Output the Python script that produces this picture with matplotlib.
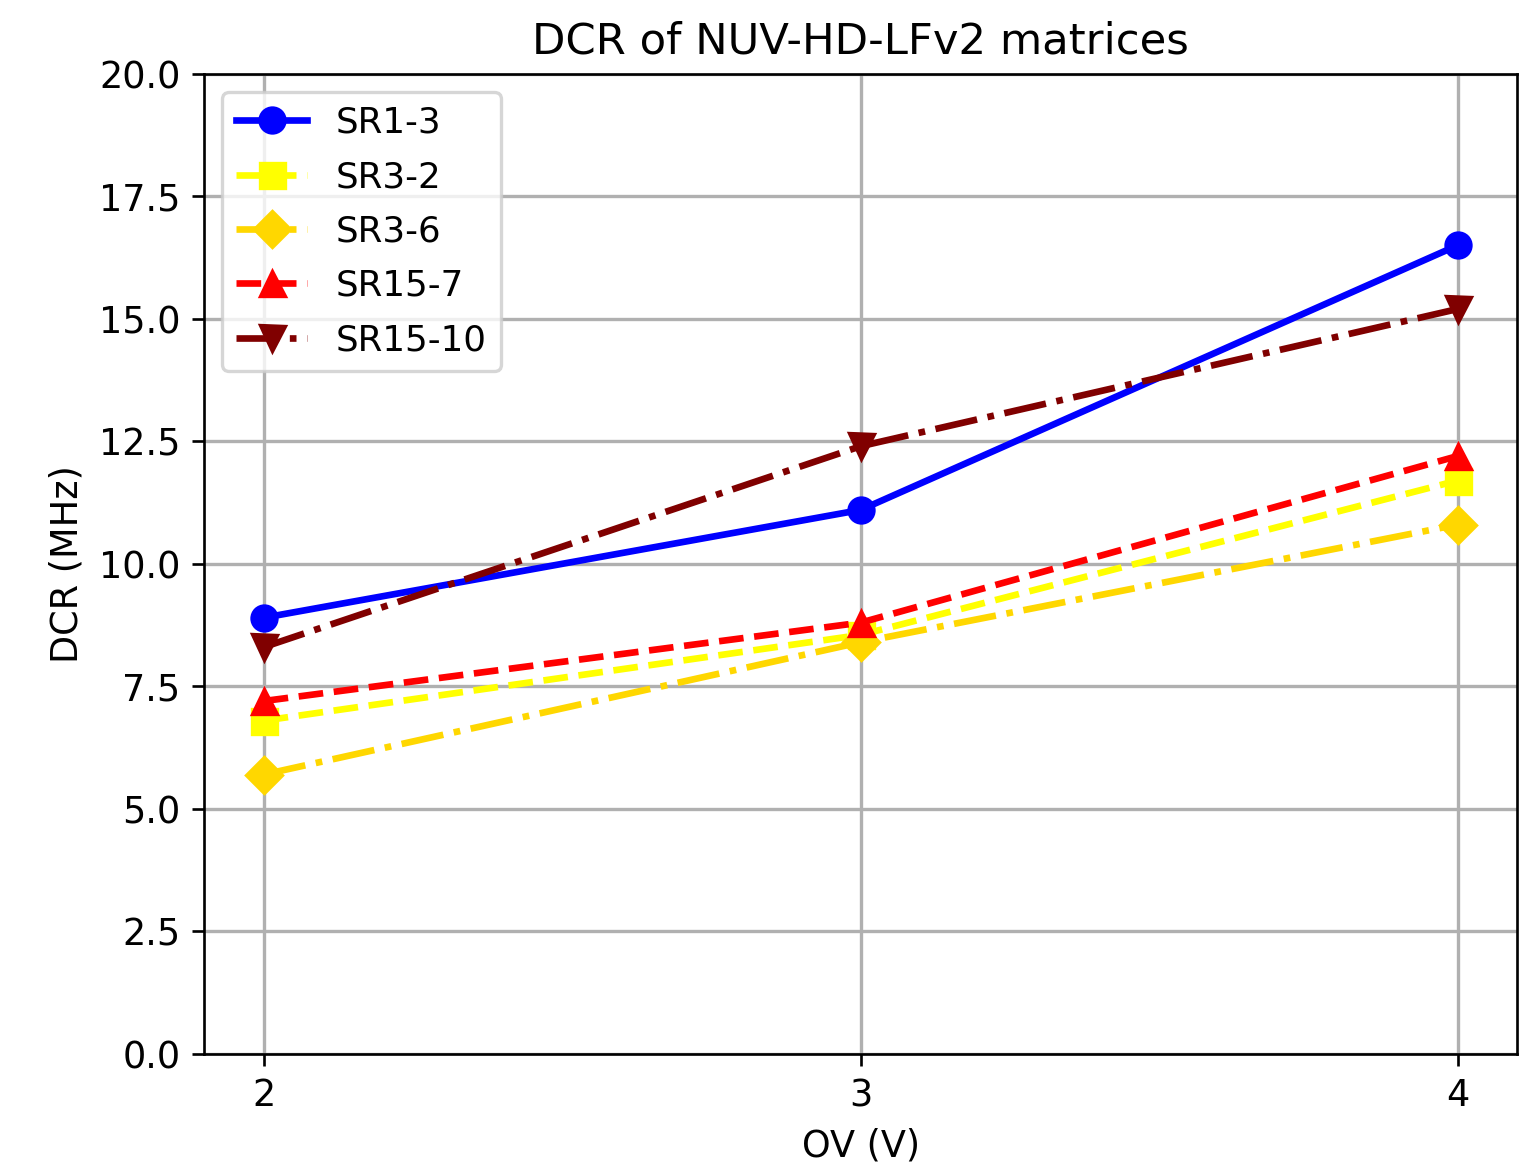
import matplotlib
matplotlib.use('Agg')
import matplotlib.pyplot as plt

# 过电压 (V)
ov = [2, 3, 4]

# 各矩阵的暗计数率 (MHz)
sr1_3 = [8.9, 11.1, 16.5]
sr3_2 = [6.8, 8.55, 11.7]
sr3_6 = [5.7, 8.4, 10.8]
sr15_7 = [7.2, 8.8, 12.2]
sr15_10 = [8.3, 12.4, 15.2]

labels = ['SR1-3', 'SR3-2', 'SR3-6', 'SR15-7', 'SR15-10']

plt.rcParams['font.size'] = 11

fig = plt.figure(figsize=(1522/240, 1171/240), dpi=240)
ax = fig.add_axes([0.134, 0.100, 0.863, 0.837])

ax.plot(ov, sr1_3, '-o', color='blue', linewidth=2, markersize=7.5, label=labels[0])
ax.plot(ov, sr3_2, '--s', color='yellow', linewidth=2, markersize=7.5, label=labels[1])
ax.plot(ov, sr3_6, '-.D', color='gold', linewidth=2, markersize=7.5, label=labels[2])
ax.plot(ov, sr15_7, '--^', color='red', linewidth=2, markersize=7.5, label=labels[3])
ax.plot(ov, sr15_10, '-.v', color='maroon', linewidth=2, markersize=7.5, label=labels[4])

ax.set_ylim(0, 20)
ax.set_xticks(ov)
ax.grid(True, linewidth=1)
ax.set_xlabel('OV (V)')
ax.set_ylabel('DCR (MHz)')
ax.set_title('DCR of NUV-HD-LFv2 matrices', fontsize=13)
ax.legend(loc='upper left', fontsize=10.7, labelspacing=0.57)

fig.savefig('out.png', dpi=240)
